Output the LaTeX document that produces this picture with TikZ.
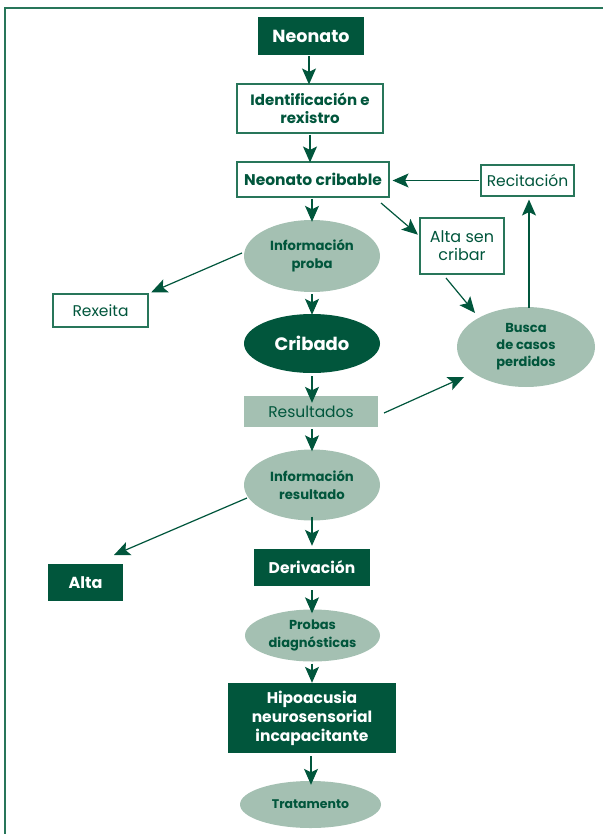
\documentclass[tikz,border=0pt]{standalone}
\usepackage{fontspec}
\setmainfont{Poppins}
\usetikzlibrary{arrows.meta,shapes.geometric}
\definecolor{dk}{RGB}{1,86,60}
\definecolor{lt}{RGB}{164,192,178}
\definecolor{bd}{RGB}{40,118,90}
\newcommand{\fs}[2]{\fontsize{#1}{#2}\selectfont}
\tikzset{
  darkbox/.style={rectangle, fill=dk, text=white, inner sep=0pt, align=center},
  whitebox/.style={rectangle, draw=bd, line width=1.1pt, fill=white, text=dk, inner sep=0pt, align=center},
  lightbox/.style={rectangle, fill=lt, text=dk, inner sep=0pt, align=center},
  lightell/.style={ellipse, fill=lt, text=dk, inner sep=0pt, align=center},
  darkell/.style={ellipse, fill=dk, text=white, inner sep=0pt, align=center},
  arr/.style={-{Stealth[length=16pt,width=14pt,inset=3.5pt]}, draw=dk, line width=1.2pt},
}
\begin{document}
\begin{tikzpicture}[x=1pt,y=-1pt]
\useasboundingbox (0,0) rectangle (603,834);
\draw[bd, line width=2pt] (5,834) -- (5,8) -- (603,8);

\node[darkbox, minimum width=106pt, minimum height=38pt, font=\bfseries\fs{17.5}{20}] (neo) at (311,36) {Neonato};
\node[whitebox, minimum width=146pt, minimum height=49pt, font=\bfseries\fs{15}{18}] (ident) at (310,108.5) {Identificación e\\rexistro};
\node[whitebox, minimum width=152pt, minimum height=35pt, font=\bfseries\fs{15.5}{18}] (crib) at (313,179.5) {Neonato cribable};
\node[whitebox, minimum width=93pt, minimum height=31pt, font=\fs{15.5}{18}] (recit) at (527.5,180.5) {Recitación};
\node[whitebox, minimum width=84pt, minimum height=56pt, font=\fs{16}{18}] (altasen) at (462,246) {Alta sen\\cribar};
\node[lightell, minimum width=136pt, minimum height=72pt, font=\bfseries\fs{13.2}{18}] (infop) at (312,256) {Información\\proba};
\node[whitebox, minimum width=95pt, minimum height=33pt, font=\fs{15.5}{18}] (rex) at (100.5,310.5) {Rexeita};
\node[darkell, minimum width=136pt, minimum height=59pt, font=\bfseries\fs{18}{20}] (cribado) at (312,343.5) {Cribado};
\node[lightell, minimum width=138pt, minimum height=80pt, font=\bfseries\fs{13}{17}] (busca) at (526,347) {Busca\\de casos\\perdidos};
\node[lightbox, minimum width=134pt, minimum height=31pt, font=\fs{15.5}{18}] (res) at (311,411.5) {Resultados};
\node[lightell, minimum width=136pt, minimum height=71pt, font=\bfseries\fs{13.2}{18}] (infor) at (312,485) {Información\\resultado};
\node[darkbox, minimum width=75pt, minimum height=37pt, font=\bfseries\fs{16}{18}] (alta) at (85.5,582.5) {Alta};
\node[darkbox, minimum width=116pt, minimum height=37pt, font=\bfseries\fs{15.5}{18}] (deriv) at (312,567.5) {Derivación};
\node[lightell, minimum width=135pt, minimum height=52pt, font=\bfseries\fs{13}{18}] (probas) at (312.5,635.5) {Probas\\diagnósticas};
\node[darkbox, minimum width=168pt, minimum height=70pt, font=\bfseries\fs{15.5}{19}] (hipo) at (312,718) {Hipoacusia\\neurosensorial\\incapacitante};
\node[lightell, minimum width=141pt, minimum height=47pt, font=\bfseries\fs{12.5}{16}] (trat) at (310.5,804.5) {Tratamento};

\coordinate (c1) at (381,203);
\coordinate (c2) at (446,278);
\coordinate (c3) at (242,253);
\coordinate (c4) at (384,413);
\coordinate (c5) at (247,498);

\draw[arr, shorten <=1pt, shorten >=-1pt] (neo.south -| 309,0) -- (ident.north -| 309,0);
\draw[arr, shorten <=1pt, shorten >=-1pt] (ident.south -| 310,0) -- (crib.north -| 310,0);
\draw[arr, shorten <=1pt, shorten >=-2pt] (crib.south -| 312,0) -- (infop.north -| 312,0);
\draw[arr, shorten <=1pt, shorten >=3pt] (recit.west) -- (crib.east |- recit.west);
\draw[arr, shorten >=2pt] (c1) -- (altasen.west |- 0,236);
\draw[arr] (c2) -- (475,313);
\draw[arr, shorten <=-1pt, shorten >=3pt] (busca.north -| 529,0) -- (recit.south -| 529,0);
\draw[arr, shorten >=3pt] (c3) -- (rex.north east);
\draw[arr, shorten <=2pt, shorten >=-1pt] (infop.south -| 312,0) -- (cribado.north -| 312,0);
\draw[arr, shorten <=3pt, shorten >=-7pt] (cribado.south -| 312,0) -- (res.north -| 312,0);
\draw[arr] (c4) -- (464,377);
\draw[arr, shorten <=2pt, shorten >=-2pt] (res.south -| 312,0) -- (infor.north -| 312,0);
\draw[arr] (c5) -- (114,555);
\draw[arr, shorten <=-4pt, shorten >=3pt] (infor.south -| 312,0) -- (deriv.north -| 312,0);
\draw[arr, shorten <=4pt, shorten >=-4pt] (deriv.south -| 312,0) -- (probas.north -| 312,0);
\draw[arr, shorten <=2pt, shorten >=0pt] (probas.south -| 312,0) -- (hipo.north -| 312,0);
\draw[arr, shorten <=3pt, shorten >=-4pt] (hipo.south -| 311,0) -- (trat.north -| 311,0);
\end{tikzpicture}
\end{document}
